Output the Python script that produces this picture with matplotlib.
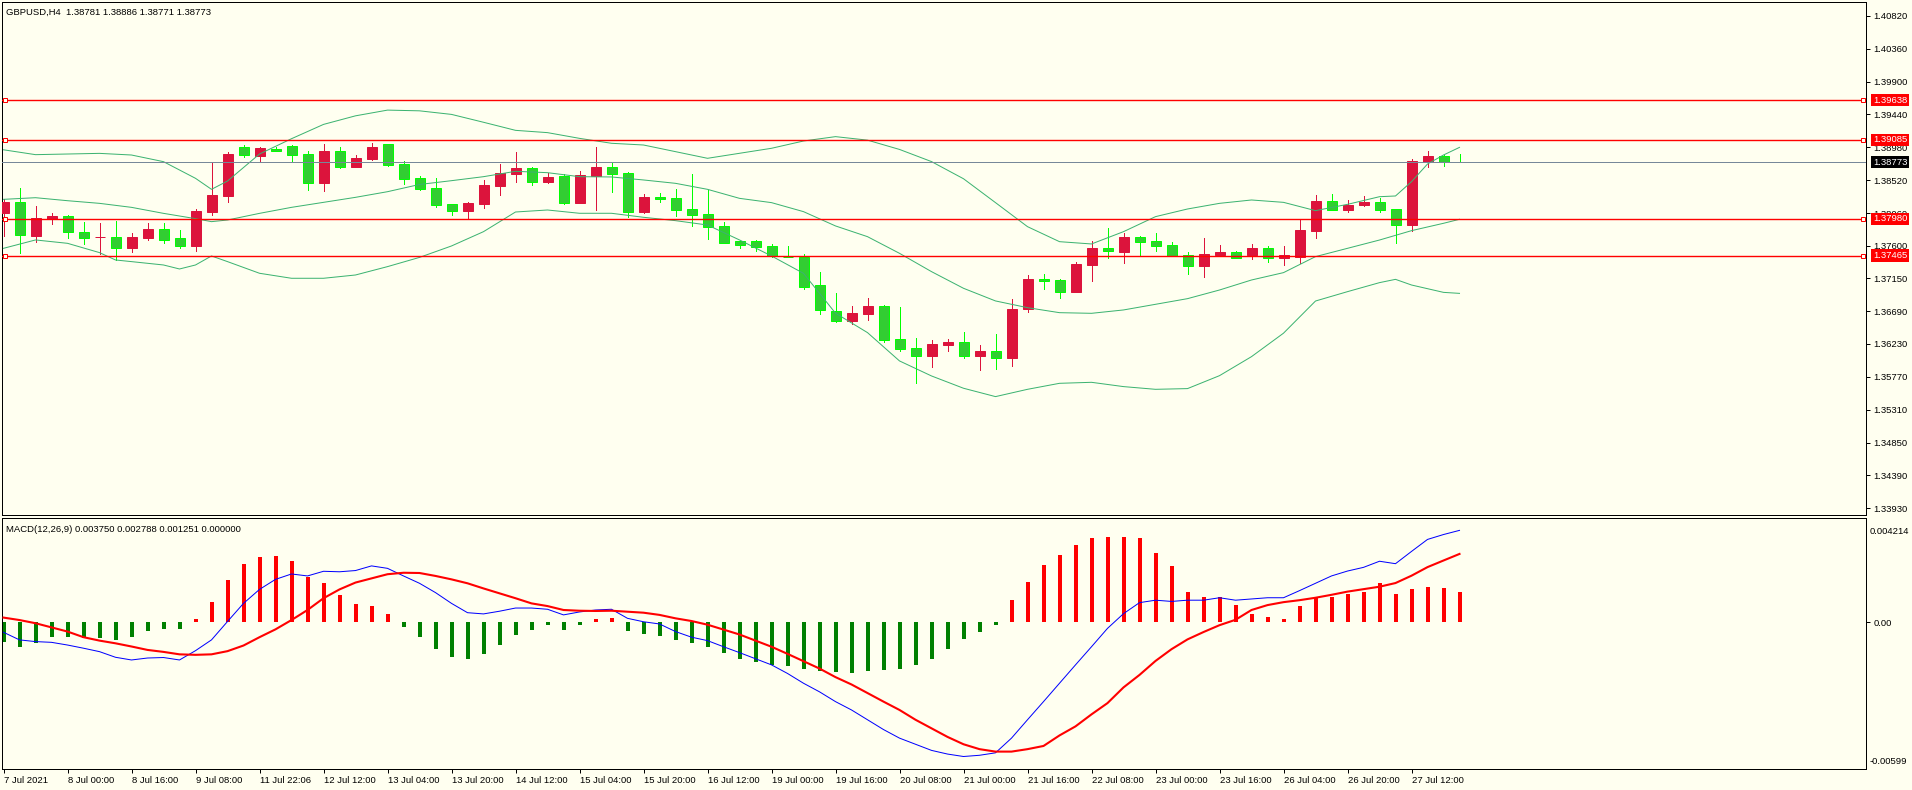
import matplotlib
matplotlib.use('Agg')
import matplotlib.pyplot as plt
from matplotlib.transforms import blended_transform_factory

plt.rcParams['font.family'] = ['Liberation Sans', 'DejaVu Sans']

# ---------------- data ----------------
title_text = 'GBPUSD,H4  1.38781 1.38886 1.38771 1.38773'
macd_text = 'MACD(12,26,9) 0.003750 0.002788 0.001251 0.000000'

opens = [1.38066, 1.38210, 1.37744, 1.37972, 1.38014, 1.37795, 1.37719, 1.37725, 1.37576, 1.37711,
         1.37837, 1.37711, 1.37604, 1.38080, 1.38303, 1.38985, 1.38862, 1.38960, 1.39000, 1.38886,
         1.38485, 1.38928, 1.38709, 1.38816, 1.39020, 1.38746, 1.38546, 1.38406, 1.38187, 1.38094,
         1.38192, 1.38444, 1.38611, 1.38686, 1.38495, 1.38583, 1.38206, 1.38579, 1.38705, 1.38621,
         1.38075, 1.38280, 1.38271, 1.38117, 1.38047, 1.37879, 1.37670, 1.37670, 1.37599, 1.37450,
         1.37450, 1.37054, 1.36691, 1.36555, 1.36653, 1.36760, 1.36299, 1.36173, 1.36066, 1.36220,
         1.36257, 1.36066, 1.36131, 1.36038, 1.36714, 1.37138, 1.37124, 1.36961, 1.37339, 1.37572,
         1.37520, 1.37726, 1.37670, 1.37614, 1.37474, 1.37325, 1.37474, 1.37516, 1.37474, 1.37572,
         1.37436, 1.37450, 1.37814, 1.38229, 1.38103, 1.38173, 1.38215, 1.38117, 1.37893, 1.38774,
         1.38858, 1.38781]
highs = [1.38250, 1.38406, 1.38159, 1.38061, 1.38033, 1.37935, 1.37921, 1.37949, 1.37781, 1.37921,
         1.37921, 1.37823, 1.38112, 1.38765, 1.38920, 1.39010, 1.38990, 1.38990, 1.39010, 1.38928,
         1.39020, 1.38990, 1.38872, 1.39040, 1.39030, 1.38788, 1.38580, 1.38546, 1.38187, 1.38215,
         1.38523, 1.38746, 1.38914, 1.38705, 1.38625, 1.38602, 1.38649, 1.38984, 1.38765, 1.38635,
         1.38327, 1.38336, 1.38397, 1.38611, 1.38383, 1.37935, 1.37670, 1.37688, 1.37628, 1.37599,
         1.37488, 1.37236, 1.36947, 1.36760, 1.36872, 1.36770, 1.36746, 1.36318, 1.36285, 1.36299,
         1.36397, 1.36215, 1.36369, 1.36858, 1.37194, 1.37208, 1.37138, 1.37376, 1.37670, 1.37851,
         1.37786, 1.37740, 1.37781, 1.37656, 1.37520, 1.37712, 1.37614, 1.37530, 1.37628, 1.37595,
         1.37600, 1.37972, 1.38313, 1.38327, 1.38243, 1.38299, 1.38276, 1.38117, 1.38816, 1.38928,
         1.38872, 1.38886]
lows = [1.37739, 1.37506, 1.37660, 1.37912, 1.37716, 1.37632, 1.37487, 1.37404, 1.37515, 1.37683,
        1.37641, 1.37571, 1.37534, 1.38038, 1.38219, 1.38849, 1.38793, 1.38930, 1.38793, 1.38383,
        1.38373, 1.38695, 1.38700, 1.38802, 1.38723, 1.38466, 1.38380, 1.38145, 1.38038, 1.37977,
        1.38136, 1.38318, 1.38495, 1.38453, 1.38481, 1.38192, 1.38206, 1.38103, 1.38360, 1.38010,
        1.38061, 1.38220, 1.38024, 1.37884, 1.37702, 1.37646, 1.37576, 1.37534, 1.37450, 1.37441,
        1.36994, 1.36650, 1.36530, 1.36509, 1.36569, 1.36262, 1.36136, 1.35688, 1.35912, 1.36136,
        1.36038, 1.35870, 1.35884, 1.35926, 1.36681, 1.37003, 1.36877, 1.36961, 1.37115, 1.37436,
        1.37367, 1.37460, 1.37530, 1.37464, 1.37208, 1.37171, 1.37464, 1.37436, 1.37422, 1.37380,
        1.37334, 1.37366, 1.37716, 1.38103, 1.38080, 1.38159, 1.38080, 1.37646, 1.37814, 1.38709,
        1.38723, 1.38771]
closes = [1.38219, 1.37758, 1.37986, 1.38019, 1.37791, 1.37716, 1.37721, 1.37576, 1.37725, 1.37837,
          1.37688, 1.37604, 1.38089, 1.38313, 1.38886, 1.38875, 1.38975, 1.38935, 1.38877, 1.38485,
          1.38928, 1.38709, 1.38830, 1.38990, 1.38737, 1.38536, 1.38401, 1.38173, 1.38094, 1.38201,
          1.38453, 1.38621, 1.38691, 1.38499, 1.38565, 1.38206, 1.38593, 1.38705, 1.38611, 1.38080,
          1.38285, 1.38262, 1.38108, 1.38038, 1.37870, 1.37646, 1.37614, 1.37590, 1.37460, 1.37441,
          1.37031, 1.36700, 1.36555, 1.36663, 1.36760, 1.36290, 1.36164, 1.36066, 1.36229, 1.36257,
          1.36066, 1.36131, 1.36038, 1.36719, 1.37138, 1.37115, 1.36961, 1.37348, 1.37572, 1.37534,
          1.37726, 1.37660, 1.37604, 1.37464, 1.37325, 1.37488, 1.37516, 1.37436, 1.37572, 1.37436,
          1.37474, 1.37823, 1.38229, 1.38103, 1.38173, 1.38215, 1.38103, 1.37898, 1.38788, 1.38858,
          1.38770, 1.38773]

# Bollinger bands (bar index, value)
ub_x = [0, 2, 4, 6, 8, 10, 12, 13, 14, 16, 18, 20, 22, 24, 26, 28, 30, 32, 34, 36, 38, 40, 42, 44, 46,
        48, 50, 52, 54, 56, 58, 60, 62, 64, 66, 68, 70, 72, 74, 76, 78, 80, 82, 84, 86, 87, 88, 89, 90, 91]
ub_y = [1.38945, 1.38877, 1.38886, 1.38895, 1.38872, 1.38779, 1.38546, 1.38392, 1.38508, 1.38886,
        1.39100, 1.39300, 1.39420, 1.39500, 1.39490, 1.39440, 1.39330, 1.39217, 1.39185, 1.39105,
        1.39036, 1.39012, 1.38919, 1.38826, 1.38896, 1.38966, 1.39068, 1.39129, 1.39080, 1.38950,
        1.38780, 1.38540, 1.38206, 1.37870, 1.37660, 1.37628, 1.37800, 1.38010, 1.38117, 1.38196,
        1.38243, 1.38210, 1.38094, 1.38182, 1.38289, 1.38299, 1.38499, 1.38746, 1.38872, 1.38979]
mb_x = [0, 2, 4, 6, 8, 10, 12, 13, 14, 16, 18, 20, 22, 24, 26, 28, 30, 32, 34, 36, 38, 40, 42, 44, 46,
        48, 50, 52, 54, 56, 58, 60, 62, 64, 66, 68, 70, 72, 74, 76, 78, 80, 82, 84, 86, 88, 90, 91]
mb_y = [1.38252, 1.38275, 1.38233, 1.38196, 1.38140, 1.38056, 1.37982, 1.37940, 1.37963, 1.38056,
        1.38140, 1.38210, 1.38280, 1.38359, 1.38460, 1.38513, 1.38569, 1.38644, 1.38625, 1.38569,
        1.38565, 1.38523, 1.38476, 1.38392, 1.38266, 1.38206, 1.38080, 1.37880, 1.37730, 1.37497,
        1.37241, 1.37008, 1.36831, 1.36737, 1.36667, 1.36658, 1.36705, 1.36784, 1.36863, 1.36984,
        1.37124, 1.37227, 1.37451, 1.37567, 1.37683, 1.37814, 1.37917, 1.37973]
lb_x = [0, 2, 4, 6, 7, 8, 10, 11, 12, 13, 14, 16, 18, 20, 22, 24, 26, 28, 30, 32, 34, 36, 38, 40, 42,
        44, 46, 48, 50, 52, 54, 56, 58, 60, 62, 64, 66, 68, 70, 72, 74, 76, 78, 80, 82, 84, 86, 87, 88,
        90, 91]
lb_y = [1.37567, 1.37684, 1.37637, 1.37507, 1.37404, 1.37381, 1.37334, 1.37278, 1.37334, 1.37460,
        1.37381, 1.37218, 1.37148, 1.37148, 1.37194, 1.37311, 1.37440, 1.37600, 1.37800, 1.38075,
        1.38103, 1.38057, 1.38057, 1.38001, 1.37954, 1.37893, 1.37684, 1.37460, 1.37217, 1.36660,
        1.36388, 1.35992, 1.35782, 1.35610, 1.35493, 1.35595, 1.35679, 1.35693, 1.35633, 1.35595,
        1.35605, 1.35786, 1.36052, 1.36380, 1.36830, 1.36961, 1.37087, 1.37133, 1.37054, 1.36951,
        1.36937]

# horizontal levels
level_lines = [1.39638, 1.39085, 1.37980, 1.37465]
level_labels = ['1.39638', '1.39085', '1.37980', '1.37465']
bid_price = 1.38773
bid_label = '1.38773'

price_ticks = [1.40820, 1.40360, 1.39900, 1.39440, 1.38980, 1.38520, 1.38060, 1.37600,
               1.37150, 1.36690, 1.36230, 1.35770, 1.35310, 1.34850, 1.34390, 1.33930]
price_tick_labels = ['1.40820', '1.40360', '1.39900', '1.39440', '1.38980', '1.38520', '1.38060',
                     '1.37600', '1.37150', '1.36690', '1.36230', '1.35770', '1.35310', '1.34850',
                     '1.34390', '1.33930']

# MACD
macd_hist = [-0.00079, -0.00100, -0.00083, -0.00059, -0.00059, -0.00066, -0.00063, -0.00072, -0.00059, -0.00034,
             -0.00028, -0.00028, 0.00015, 0.00083, 0.00173, 0.00238, 0.00268, 0.00270, 0.00250, 0.00186,
             0.00160, 0.00111, 0.00075, 0.00066, 0.00034, -0.00020, -0.00061, -0.00108, -0.00140, -0.00152,
             -0.00131, -0.00093, -0.00052, -0.00032, -0.00011, -0.00032, -0.00011, 0.00013, 0.00017, -0.00036,
             -0.00048, -0.00056, -0.00072, -0.00083, -0.00100, -0.00124, -0.00149, -0.00164, -0.00174, -0.00179,
             -0.00189, -0.00199, -0.00204, -0.00209, -0.00199, -0.00194, -0.00189, -0.00174, -0.00149, -0.00110,
             -0.00070, -0.00040, -0.00010, 0.00090, 0.00164, 0.00234, 0.00274, 0.00314, 0.00343, 0.00348,
             0.00348, 0.00343, 0.00284, 0.00229, 0.00124, 0.00105, 0.00105, 0.00070, 0.00035, 0.00020,
             0.00015, 0.00065, 0.00100, 0.00105, 0.00114, 0.00124, 0.00159, 0.00114, 0.00134, 0.00144,
             0.00139, 0.001251]
macd_main = [-0.00041, -0.00072, -0.00079, -0.00082, -0.00093, -0.00106, -0.00120, -0.00143, -0.00154, -0.00146,
             -0.00144, -0.00154, -0.00116, -0.00072, 0.00003, 0.00077, 0.00134, 0.00175, 0.00197, 0.00189,
             0.00208, 0.00206, 0.00211, 0.00230, 0.00220, 0.00189, 0.00159, 0.00121, 0.00077, 0.00039,
             0.00034, 0.00045, 0.00058, 0.00058, 0.00053, 0.00030, 0.00042, 0.00050, 0.00053, 0.00016,
             0.00002, -0.00007, -0.00038, -0.00061, -0.00075, -0.00100, -0.00124, -0.00149, -0.00174, -0.00209,
             -0.00249, -0.00284, -0.00324, -0.00358, -0.00398, -0.00438, -0.00473, -0.00498, -0.00523, -0.00538,
             -0.00548, -0.00543, -0.00533, -0.00473, -0.00398, -0.00324, -0.00249, -0.00174, -0.00100, -0.00025,
             0.00035, 0.00080, 0.00090, 0.00085, 0.00090, 0.00090, 0.00100, 0.00090, 0.00095, 0.00100,
             0.00100, 0.00129, 0.00159, 0.00189, 0.00209, 0.00224, 0.00249, 0.00239, 0.00289, 0.00338,
             0.00358, 0.003750]
macd_signal = [0.00019, 0.00009, -0.00004, -0.00021, -0.00038, -0.00061, -0.00075, -0.00086, -0.00099, -0.00113,
               -0.00121, -0.00131, -0.00133, -0.00131, -0.00118, -0.00095, -0.00061, -0.00029, 0.00009, 0.00050,
               0.00098, 0.00134, 0.00162, 0.00179, 0.00196, 0.00202, 0.00201, 0.00189, 0.00175, 0.00159,
               0.00138, 0.00118, 0.00098, 0.00077, 0.00066, 0.00050, 0.00047, 0.00046, 0.00047, 0.00043,
               0.00039, 0.00030, 0.00016, 0.00005, -0.00010, -0.00030, -0.00050, -0.00075, -0.00100, -0.00129,
               -0.00159, -0.00189, -0.00224, -0.00254, -0.00289, -0.00324, -0.00358, -0.00398, -0.00433, -0.00468,
               -0.00498, -0.00518, -0.00528, -0.00528, -0.00518, -0.00505, -0.00462, -0.00425, -0.00376, -0.00330,
               -0.00266, -0.00215, -0.00158, -0.00110, -0.00070, -0.00040, -0.00012, 0.00010, 0.00050, 0.00070,
               0.00082, 0.00090, 0.00100, 0.00112, 0.00125, 0.00135, 0.00145, 0.00160, 0.00190, 0.00225,
               0.00252, 0.002788]
macd_max_label = '0.004214'
macd_min_label = '-0.00599'
macd_max = 0.004214

time_tick_bars = list(range(0, 92, 4))
time_labels = ['7 Jul 2021', '8 Jul 00:00', '8 Jul 16:00', '9 Jul 08:00', '11 Jul 22:06', '12 Jul 12:00',
               '13 Jul 04:00', '13 Jul 20:00', '14 Jul 12:00', '15 Jul 04:00', '15 Jul 20:00',
               '16 Jul 12:00', '19 Jul 00:00', '19 Jul 16:00', '20 Jul 08:00', '21 Jul 00:00',
               '21 Jul 16:00', '22 Jul 08:00', '23 Jul 00:00', '23 Jul 16:00', '26 Jul 04:00',
               '26 Jul 20:00', '27 Jul 12:00']

# ---------------- layout / style ----------------
W, H = 1912, 790
BG = '#FFFFF0'
BULL = '#DC143C'
BEAR_FILL = '#32CD32'
BEAR_EDGE = '#00FF00'
BAND = '#3CB371'
FS = 6.8
LW1 = 0.72  # one pixel

fig = plt.figure(figsize=(W / 100, H / 100), dpi=100, facecolor=BG)


def fx(px):
    return px / W


def fy(py):
    return 1 - py / H


X0, X1 = 2, 1866
MT, MB = 2, 515
ST, SB = 518, 769
PX_PER_BAR = 16.0
BAR0_PX = 3.5
P_AT_Y0 = 1.41040
P_PER_PX = 0.00013986
V_PER_PX = 1 / 24500.0
V_ROW = 519

ax = fig.add_axes([fx(X0), fy(MB), fx(X1) - fx(X0), fy(MT) - fy(MB)], facecolor=BG)
axm = fig.add_axes([fx(X0), fy(SB), fx(X1) - fx(X0), fy(ST) - fy(SB)], facecolor=BG)

xlim = ((X0 - BAR0_PX) / PX_PER_BAR, (X1 - BAR0_PX) / PX_PER_BAR)
for a in (ax, axm):
    a.set_xlim(*xlim)
    for s in a.spines.values():
        s.set_color('black')
        s.set_linewidth(LW1)
ax.set_ylim(P_AT_Y0 - MB * P_PER_PX, P_AT_Y0 - MT * P_PER_PX)
axm.set_ylim(macd_max - (SB - V_ROW) * V_PER_PX, macd_max + (V_ROW - ST) * V_PER_PX)

# ---------------- candles ----------------
n = len(opens)
xs = list(range(n))
bw = 10 / PX_PER_BAR
for i in xs:
    o, h, l, c = opens[i], highs[i], lows[i], closes[i]
    bull = c >= o
    wick_col = BULL if bull else BEAR_EDGE
    ax.vlines(i, l, h, color=wick_col, lw=LW1, zorder=2, antialiased=False)
    ax.bar(i, abs(c - o), bottom=min(o, c), width=bw,
           color=BULL if bull else BEAR_FILL,
           edgecolor=BULL if bull else BEAR_EDGE, linewidth=LW1, zorder=3)

# Bollinger bands
for bx, by in ((ub_x, ub_y), (mb_x, mb_y), (lb_x, lb_y)):
    ax.plot(bx, by, color=BAND, lw=LW1, zorder=4)

# horizontal lines
tr_ax = blended_transform_factory(ax.transAxes, ax.transData)
for p in level_lines:
    ax.axhline(p, color='red', lw=1.0, zorder=5)
    ax.plot([0.0018, 0.9984], [p, p], transform=tr_ax, ls='none', marker='s', ms=3.4,
            mfc=BG, mec='red', mew=LW1, zorder=6, clip_on=False)
ax.axhline(bid_price, color='#778899', lw=LW1, zorder=4.5)

# price axis
ax.yaxis.tick_right()
ax.set_yticks(price_ticks)
ax.set_yticklabels(price_tick_labels)
ax.tick_params(axis='y', direction='out', length=3, width=LW1, pad=2.5, labelsize=FS, colors='black')
ax.set_xticks([])

tr_fig = blended_transform_factory(fig.transFigure, ax.transData)
for p, lab in zip(level_lines, level_labels):
    fig.text(fx(1873), p, lab, transform=tr_fig, ha='left', va='center', fontsize=FS, color='white',
             bbox=dict(boxstyle='square,pad=0.18', fc='red', ec='none'), zorder=5)
fig.text(fx(1873), bid_price, bid_label, transform=tr_fig, ha='left', va='center', fontsize=FS,
         color='white', bbox=dict(boxstyle='square,pad=0.18', fc='black', ec='none'), zorder=5)

# ---------------- MACD ----------------
for i in xs:
    v = macd_hist[i]
    axm.vlines(i, 0, v, color='red' if v >= 0 else '#008000', lw=1.5, zorder=2, antialiased=False)
axm.plot(xs, macd_main, color='#0000FF', lw=LW1, zorder=3)
axm.plot(xs, macd_signal, color='#FF0000', lw=1.5, zorder=4)

axm.yaxis.tick_right()
axm.set_yticks([0.0])
axm.set_yticklabels(['0.00'])
axm.tick_params(axis='y', direction='out', length=3, width=LW1, pad=2.5, labelsize=FS, colors='black')
fig.text(fx(1870), fy(532), macd_max_label, ha='left', va='center', fontsize=FS)
fig.text(fx(1870), fy(762), macd_min_label, ha='left', va='center', fontsize=FS)

axm.set_xticks(time_tick_bars)
axm.set_xticklabels(time_labels, ha='left')
axm.tick_params(axis='x', direction='out', length=3.2, width=LW1, pad=1.5, labelsize=FS, colors='black')

# titles
fig.text(fx(6), fy(12), title_text, ha='left', va='center', fontsize=FS)
fig.text(fx(6), fy(530), macd_text, ha='left', va='center', fontsize=FS)

fig.savefig('out.png', dpi=100, facecolor=BG)
